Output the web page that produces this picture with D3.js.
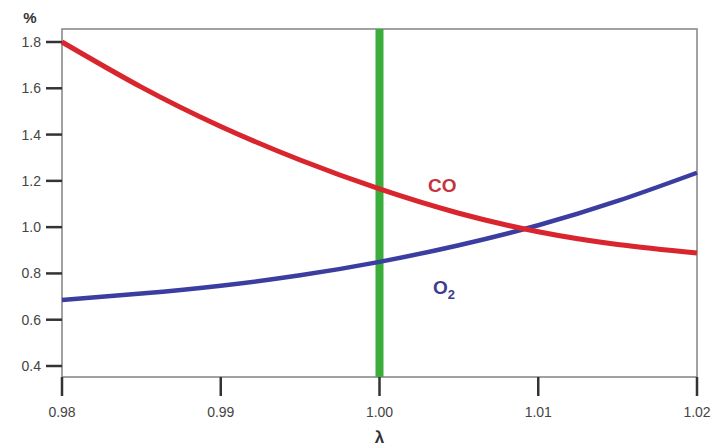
<!DOCTYPE html>
<html><head><meta charset="utf-8">
<script src="https://cdn.jsdelivr.net/npm/d3@7/dist/d3.min.js"></script>
<style>body{margin:0;background:#fff}svg{display:block}</style>
</head><body>
<script>
const lambda = [0.980, 0.985, 0.990, 0.995, 1.000, 1.005, 1.010, 1.015, 1.020];
const co     = [1.80, 1.605, 1.435, 1.29, 1.165, 1.06, 0.98, 0.925, 0.888];
const o2     = [0.685, 0.713, 0.747, 0.792, 0.85, 0.922, 1.008, 1.113, 1.235];
const xTicks = [0.98, 0.99, 1.00, 1.01, 1.02];
const yTicks = [0.4, 0.6, 0.8, 1.0, 1.2, 1.4, 1.6, 1.8];
const markerLambda = 1.00;

const W = 720, H = 448;
const svg = d3.select("body").append("svg").attr("width", W).attr("height", H);
const x = d3.scaleLinear().domain([0.98, 1.02]).range([62, 697]);
const y = d3.scaleLinear().domain([0.4, 1.8]).range([366, 42]);
const plotTop = 29, plotBottom = 377;
const FONT = "Liberation Sans, Arial, sans-serif";

// frame
svg.append("rect").attr("x", 62).attr("y", plotTop).attr("width", 697 - 62).attr("height", plotBottom - plotTop)
  .attr("fill", "none").attr("stroke", "#8a8a8a").attr("stroke-width", 1.6);

// y axis ticks
const fmt = d3.format(".1f");
svg.append("g").selectAll("line").data(yTicks).join("line")
  .attr("x1", 46).attr("x2", 62).attr("y1", d => y(d)).attr("y2", d => y(d))
  .attr("stroke", "#333").attr("stroke-width", 2.5);
svg.append("g").selectAll("text").data(yTicks).join("text")
  .attr("x", 41).attr("y", d => y(d)).attr("dy", "0.36em").attr("text-anchor", "end")
  .attr("font-family", FONT).attr("font-size", 14).attr("fill", "#444")
  .text(d => fmt(d));

// x axis ticks
const fmtx = d3.format(".2f");
svg.append("g").selectAll("line").data(xTicks).join("line")
  .attr("x1", d => x(d)).attr("x2", d => x(d)).attr("y1", plotBottom).attr("y2", 396)
  .attr("stroke", "#333").attr("stroke-width", 2.5);
svg.append("g").selectAll("text").data(xTicks).join("text")
  .attr("x", d => x(d)).attr("y", 412).attr("dy", "0.36em").attr("text-anchor", "middle")
  .attr("font-family", FONT).attr("font-size", 14).attr("fill", "#444")
  .text(d => fmtx(d));

// green marker line
svg.append("line").attr("x1", x(markerLambda)).attr("x2", x(markerLambda)).attr("y1", plotTop).attr("y2", plotBottom)
  .attr("stroke", "#3aad3a").attr("stroke-width", 8);

const line = d3.line().x(d => x(d[0])).y(d => y(d[1])).curve(d3.curveNatural);
svg.append("path").datum(d3.zip(lambda, o2)).attr("d", line)
  .attr("fill", "none").attr("stroke", "#3b3da0").attr("stroke-width", 4.5);
svg.append("path").datum(d3.zip(lambda, co)).attr("d", line)
  .attr("fill", "none").attr("stroke", "#d9262e").attr("stroke-width", 5);

// labels
svg.append("text").attr("x", 428).attr("y", 192).attr("font-family", FONT)
  .attr("font-weight", "bold").attr("font-size", 19).attr("fill", "#c8323c").text("CO");
const o2t = svg.append("text").attr("x", 433).attr("y", 294).attr("font-family", FONT)
  .attr("font-weight", "bold").attr("font-size", 19).attr("fill", "#3c3c90");
o2t.append("tspan").text("O");
o2t.append("tspan").attr("font-size", 13).attr("dy", 5).text("2");

svg.append("text").attr("x", 30).attr("y", 23).attr("text-anchor", "middle")
  .attr("font-family", FONT).attr("font-weight", "bold").attr("font-size", 15)
  .attr("fill", "#333").text("%");
svg.append("text").attr("x", x(1.00)).attr("y", 443).attr("text-anchor", "middle")
  .attr("font-family", FONT).attr("font-weight", "bold").attr("font-size", 17)
  .attr("fill", "#333").text("λ");
</script>
</body></html>
